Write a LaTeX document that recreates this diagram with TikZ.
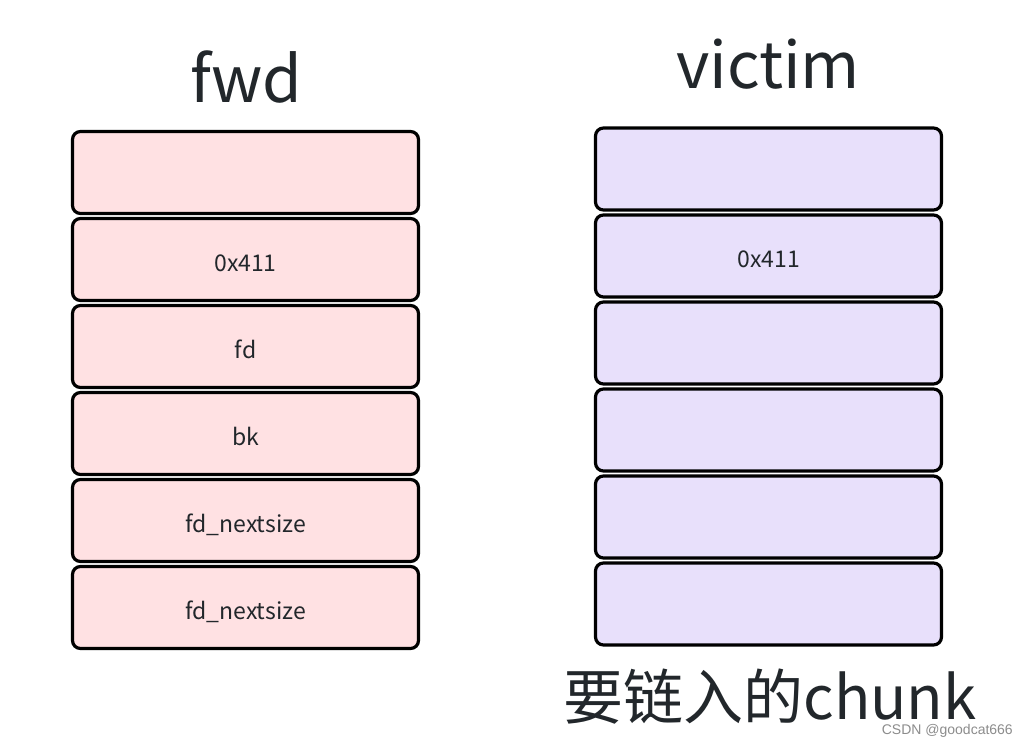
\documentclass[tikz,border=0pt]{standalone}
\usepackage{fontspec}
\setmainfont{Noto Sans CJK SC}
\newfontfamily\wmfont{Liberation Sans}
\definecolor{pinkfill}{HTML}{FFE1E3}
\definecolor{lavfill}{HTML}{E8E0FB}
\definecolor{txt}{HTML}{22272B}
\begin{document}
\begin{tikzpicture}[x=1pt,y=-1pt,
  cell/.style={draw=black,line width=3.2pt,rounded corners=8pt,minimum width=346pt,minimum height=82pt,inner sep=0pt,text=txt,font=\fontsize{23}{27}\selectfont},
  lcell/.style={cell,fill=pinkfill},
  rcell/.style={cell,fill=lavfill},
  celltext/.style={text=txt,inner sep=0pt,anchor=base,font=\fontsize{23}{27}\selectfont},
  title/.style={text=txt,inner sep=0pt,anchor=base,font=\fontsize{64}{70}\selectfont}]
\useasboundingbox (0,0) rectangle (1024,744);
\fill[white] (0,0) rectangle (1024,744);
\node[title] (tl) at (246,102) {fwd};
\node[title] (tr) at (768,88) {victim};
\foreach \i/\t in {0/{},1/{0x411},2/{fd},3/{bk},4/{fd\_nextsize},5/{fd\_nextsize}}{
  \node[lcell] (l\i) at (245.5,{172.5+87*\i}) {};
  \node[celltext] (lt\i) at ([yshift=-11.5pt]l\i.center) {\t};
}
\foreach \i/\t in {0/{},1/{0x411},2/{},3/{},4/{},5/{}}{
  \node[rcell] (r\i) at (768.5,{169+87*\i}) {};
  \node[celltext] (rt\i) at ([yshift=-11.5pt]r\i.center) {\t};
}
\node[title,font=\fontsize{60}{66}\selectfont] (cap) at (770,719) {要链入的chunk};
\node[anchor=base east,inner sep=0pt,text=black!45,font=\wmfont\fontsize{14}{16}\selectfont] (wm) at (1013,734) {CSDN @goodcat666};
\end{tikzpicture}
\end{document}
